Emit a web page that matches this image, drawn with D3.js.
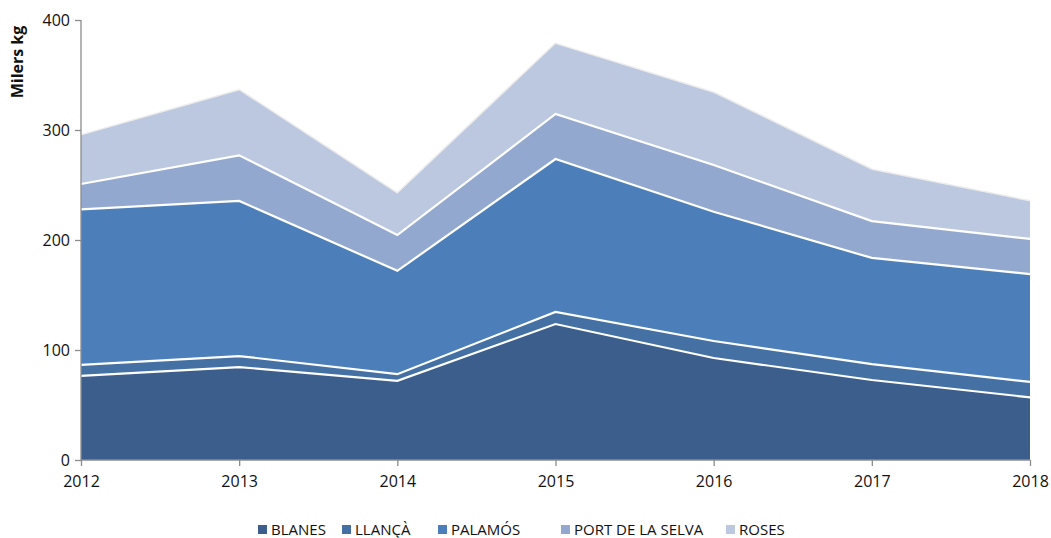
<!DOCTYPE html>
<html>
<head>
<meta charset="utf-8">
<title>Milers kg</title>
<script src="https://d3js.org/d3.v7.min.js"></script>
<style>
  body { margin: 0; background: #fff; }
  text { font-family: "Open Sans", "Liberation Sans", sans-serif; fill: #111; }
</style>
</head>
<body>
<script>
var years = [2012, 2013, 2014, 2015, 2016, 2017, 2018];
var seriesNames = ["BLANES", "LLANÇÀ", "PALAMÓS", "PORT DE LA SELVA", "ROSES"];
var blanes = [76.4, 84.5, 72, 123.6, 92.7, 72.7, 57];
var llanca = [10, 10, 6, 11, 15.5, 14.5, 14];
var palamos = [141.5, 141, 94, 139, 117.5, 96.5, 98];
var portSelva = [23, 41.5, 32.5, 41, 42.5, 33.5, 32];
var roses = [44, 59, 37.5, 63.5, 65.5, 46.5, 34];
var yTicks = [0, 100, 200, 300, 400];
var colors = ["#3b5e8c", "#4470a4", "#4c7fb9", "#93a8cf", "#bcc8e0"];

var seriesValues = [blanes, llanca, palamos, portSelva, roses];
var rows = years.map(function(y, i) {
  var r = { year: y };
  seriesNames.forEach(function(n, k) { r[n] = seriesValues[k][i]; });
  return r;
});

var width = 1051, height = 538;
var margin = { left: 81, right: 21, top: 20, bottom: 78 };

var svg = d3.select("body").append("svg").attr("width", width).attr("height", height);

var x = d3.scaleLinear().domain([2012, 2018]).range([margin.left, width - margin.right]);
var y = d3.scaleLinear().domain([0, 400]).range([height - margin.bottom, margin.top]);

var layers = d3.stack().keys(seriesNames)(rows);

var area = d3.area()
  .x(function(d) { return x(d.data.year); })
  .y0(function(d) { return y(d[0]); })
  .y1(function(d) { return y(d[1]); });

var line = d3.line()
  .x(function(d) { return x(d.data.year); })
  .y(function(d) { return y(d[1]); });

// faint shadow on the top edge
svg.append("path")
  .datum(layers[layers.length - 1])
  .attr("d", line)
  .attr("fill", "none")
  .attr("stroke", "#ececec")
  .attr("stroke-width", 3);

svg.append("g").selectAll("path.area")
  .data(layers)
  .enter().append("path")
  .attr("class", "area")
  .attr("d", area)
  .attr("fill", function(d, i) { return colors[i]; });

// white separators between layers
svg.append("g").selectAll("path.sep")
  .data(layers.slice(0, layers.length - 1))
  .enter().append("path")
  .attr("class", "sep")
  .attr("d", line)
  .attr("fill", "none")
  .attr("stroke", "#fff")
  .attr("stroke-width", 2.2);

// axes
var yAxis = d3.axisLeft(y).tickValues(yTicks).tickSize(6).tickPadding(5);
var xAxis = d3.axisBottom(x).tickValues(years).tickFormat(d3.format("d")).tickSize(6).tickPadding(10);

var yG = svg.append("g").attr("transform", "translate(" + margin.left + ",0)").call(yAxis);
var xG = svg.append("g").attr("transform", "translate(0," + (height - margin.bottom) + ")").call(xAxis);

[yG, xG].forEach(function(g) {
  g.selectAll("path.domain").attr("stroke", "#8c8c8c").attr("stroke-width", 1.3);
  g.selectAll(".tick line").attr("stroke", "#8c8c8c").attr("stroke-width", 1.3);
  g.selectAll(".tick text").attr("font-size", 16).style("font-family", "'Open Sans', 'Liberation Sans', sans-serif").attr("fill", "#111");
});
xG.select("path.domain").attr("d", "M" + margin.left + ",0H" + (width - margin.right));
yG.select("path.domain").attr("d", "M0," + y(0) + "V" + y(400));

svg.append("text")
  .attr("transform", "translate(23,62) rotate(-90)")
  .attr("text-anchor", "middle")
  .attr("font-size", 16)
  .attr("font-weight", "bold")
  .text("Milers kg");

// legend
var legendX = [258, 342, 438, 561, 726];
var legend = svg.append("g").selectAll("g")
  .data(seriesNames)
  .enter().append("g")
  .attr("transform", function(d, i) { return "translate(" + legendX[i] + ",529)"; });
legend.append("rect")
  .attr("x", 0).attr("y", -4).attr("width", 9).attr("height", 9)
  .attr("fill", function(d, i) { return colors[i]; });
legend.append("text")
  .attr("x", 13).attr("y", 6)
  .attr("font-size", 15)
  .text(function(d) { return d; });
</script>
</body>
</html>
